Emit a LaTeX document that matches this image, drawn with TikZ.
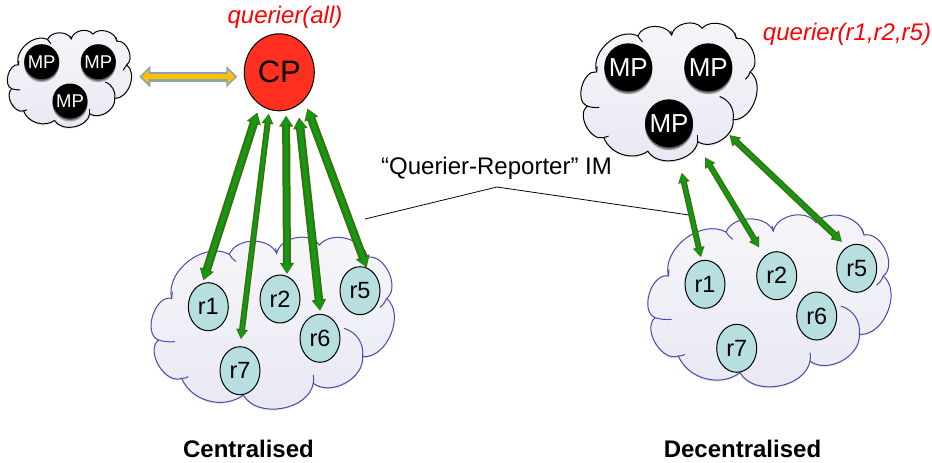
\documentclass[tikz,border=0pt]{standalone}
\usepackage{fontspec}
\setmainfont{Liberation Sans}
\usetikzlibrary{arrows.meta,shapes.geometric,shadows}
\definecolor{cpred}{HTML}{FF3020}
\definecolor{rfill}{HTML}{B8DFE0}
\definecolor{cloudblue}{HTML}{4A4AA8}
\definecolor{gdark}{HTML}{3A7010}
\definecolor{ginner}{HTML}{129A12}
\definecolor{ygold}{HTML}{FFC000}
\definecolor{ygrey}{HTML}{8CA6A8}
\definecolor{cloudtop}{HTML}{F6F6F9}
\definecolor{cloudbot}{HTML}{E8E8F4}
\newcommand{\fsz}[1]{\fontsize{#1}{#1}\selectfont}
\newcommand{\mycloud}[5]{%
\begin{scope}[shift={(#1,#2)},x=#3pt,y=-#4pt]
\path[draw=#5,line width=1pt,top color=cloudtop,bottom color=cloudbot,
  drop shadow={opacity=.18,shadow xshift=0pt,shadow yshift=-1.5pt}]
 (125,235) to[bend left=66] (298,103) to[bend left=66] (440,100)
 to[bend left=66] (568,75) to[bend left=64] (712,112)
 to[bend left=78] (770,235) to[bend left=72] (698,410)
 to[bend left=66] (550,490) to[bend left=70] (340,525)
 to[bend left=52] (155,475) to[bend left=80] (85,360)
 to[bend left=85] cycle;
\draw[#5,line width=1pt] (298,103) to[bend right=10] (318,125);
\draw[#5,line width=1pt] (440,100) to[bend left=10] (437,85);
\draw[#5,line width=1pt] (712,112) to[bend left=10] (705,92);
\draw[#5,line width=1pt] (770,235) to[bend left=15] (750,262);
\draw[#5,line width=1pt] (642,325) to[bend left=40] (698,410);
\draw[#5,line width=1pt] (550,490) to[bend right=10] (550,465);
\draw[#5,line width=1pt] (155,475) to[bend right=15] (175,470);
\draw[#5,line width=1pt] (85,360) to[bend right=10] (135,365);
\draw[#5,line width=1pt] (125,235) to[bend left=5] (127,215);
\end{scope}}
\tikzset{
 rnode/.style={ellipse,draw=black,line width=1pt,fill=rfill,minimum width=40pt,minimum height=48pt,inner sep=0pt,font=\fsz{23.5}},
 ball/.style={circle,fill=black,text=white,inner sep=0pt,minimum size=#1,
   drop shadow={opacity=.3,fill=black,shadow xshift=0pt,shadow yshift=-3pt},
   drop shadow={opacity=.45,fill=black,shadow xshift=0pt,shadow yshift=-1.5pt}},
 cpnode/.style={ellipse,draw=black,line width=1pt,fill=cpred,minimum width=70pt,minimum height=77pt,inner sep=0pt,font=\fsz{31}},
 redlabel/.style={text=red,inner sep=0pt,font=\fsz{24}\itshape},
 caption/.style={inner sep=0pt,font=\fsz{24}\bfseries},
 imline/.style={draw=black,line width=.8pt},
}
% \grn{line width}{from}{shorten from}{to}{shorten to}
\newcommand{\grn}[5]{%
 \pgfmathsetmacro{\gin}{#1*.5}
 \pgfmathsetmacro{\hw}{#1*1.1+4.5}
 \pgfmathsetmacro{\hl}{#1*.5+7}
 \draw[gdark,line width=#1pt,shorten <=#3pt,shorten >=#5pt,
   {Triangle[length=\hl pt,width=\hw pt]}-{Triangle[length=\hl pt,width=\hw pt]}] (#2) -- (#4);
 \pgfmathsetmacro{\sa}{#3+1.6}
 \pgfmathsetmacro{\sb}{#5+1.6}
 \pgfmathsetmacro{\hwi}{\hw-3.6}
 \pgfmathsetmacro{\hli}{\hl-3.2}
 \draw[ginner,line width=\gin pt,shorten <=\sa pt,shorten >=\sb pt,
   {Triangle[length=\hli pt,width=\hwi pt]}-{Triangle[length=\hli pt,width=\hwi pt]}] (#2) -- (#4);}
\begin{document}
\begin{tikzpicture}[x=1pt,y=-1pt]
\useasboundingbox[fill=white] (0,0) rectangle (932,463);
% clouds
\mycloud{130}{220}{.3333}{.3333}{cloudblue}
\mycloud{626.7}{197.7}{.3333}{.3333}{cloudblue}
\mycloud{566.9}{7.7}{.238}{.2733}{black}
\mycloud{-2.5}{19.7}{.1678}{.192}{black}
% nodes
\node[cpnode] (cp) at (279.3,72.3) {CP};
\node[redlabel,anchor=center] (qall) at (285,17) {querier(all)};
\node[redlabel,anchor=center] (qr) at (847,34) {querier(r1,r2,r5)};
\node[ball=35pt,font=\fsz{18.5}] (ma) at (41.7,61.7) {MP};
\node[ball=35pt,font=\fsz{18.5}] (mb) at (98.3,61.7) {MP};
\node[ball=35pt,font=\fsz{18.5}] (mc) at (70,101) {MP};
\node[ball=48pt,font=\fsz{26}] (md) at (628.3,67.3) {MP};
\node[ball=48pt,font=\fsz{26}] (me) at (708.3,67.3) {MP};
\node[ball=48pt,font=\fsz{26}] (mf) at (669,123.3) {MP};
\node[rnode] (r1) at (208.3,306.7) {r1};
\node[rnode] (r2) at (280,299) {r2};
\node[rnode] (r5) at (360,290.7) {r5};
\node[rnode] (r6) at (320,338.3) {r6};
\node[rnode] (r7) at (240,370.7) {r7};
\node[rnode] (s1) at (705,284.3) {r1};
\node[rnode] (s2) at (776.7,275.7) {r2};
\node[rnode] (s5) at (856.7,268.3) {r5};
\node[rnode] (s6) at (816.7,316) {r6};
\node[rnode] (s7) at (736.7,348.3) {r7};
\node[inner sep=0pt,font=\fsz{24}] (im) at (496.5,168) {“Querier-Reporter” IM};
\node[caption] (c1) at (248.5,449) {Centralised};
\node[caption] (c2) at (742.5,449) {Decentralised};
% free ends
\coordinate (ya) at (139.3,76.7);
\coordinate (yb) at (237.3,76.7);
\coordinate (q1) at (681.7,172.7);
\coordinate (q2) at (705,157.3);
\coordinate (q5) at (729.3,135);
\coordinate (la) at (365,219);
\coordinate (lb) at (497,187);
\coordinate (lc) at (689,215);
% IM line
\draw[imline] (la) -- (lb) -- (lc);
% yellow arrow
\draw[ygrey,line width=10pt,{Triangle[length=11pt,width=21pt]}-{Triangle[length=11pt,width=21pt]}] (ya) -- (yb);
\draw[ygold,line width=5.5pt,shorten <=2.4pt,shorten >=2.4pt,{Triangle[length=7pt,width=13pt]}-{Triangle[length=7pt,width=13pt]}] (ya) -- (yb);
% green arrows
\grn{8.5}{cp.239}{8}{r1.104}{3}
\grn{6}{cp.255}{4}{r7.90}{7}
\grn{8}{cp.280}{5}{r2.73}{2}
\grn{8.5}{cp.299}{12}{r6.89}{3}
\grn{8.5}{cp.312}{9}{r5.74}{0}
\grn{6}{q1}{0}{s1.98}{3}
\grn{6}{q2}{0}{s2.122}{10}
\grn{6.5}{q5}{0}{s5.114}{7}
\end{tikzpicture}
\end{document}
